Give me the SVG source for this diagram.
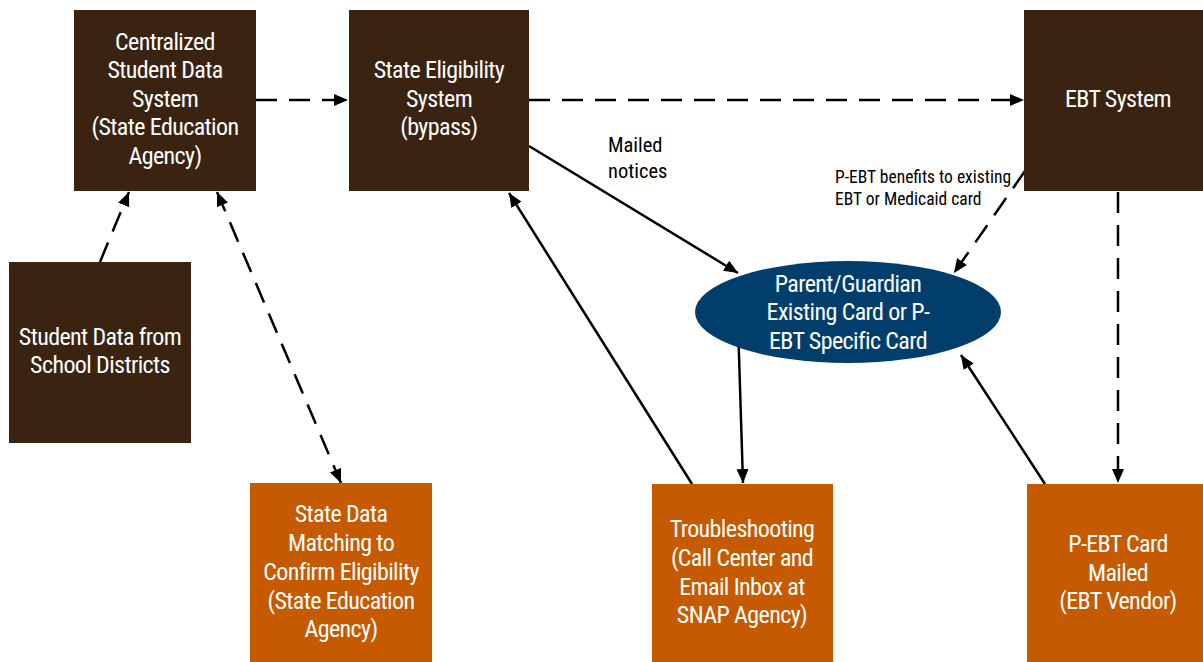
<svg xmlns="http://www.w3.org/2000/svg" width="1203" height="662" viewBox="0 0 1203 662">
<style>
.dark{fill:#3A2311}
.orange{fill:#C55A00}
.navy{fill:#023E6B}
.t{font-family:"Liberation Sans Narrow","Roboto Condensed","Liberation Sans",sans-serif;font-size:24px;letter-spacing:-0.6px;fill:#FFFFFF;text-anchor:middle}
.lbl{font-family:"Liberation Sans Narrow","Roboto Condensed","Liberation Sans",sans-serif;fill:#000000}
.c{fill:none;stroke:#000000;stroke-width:2.5}
.d{stroke-dasharray:21 12}
</style>
<defs>
<marker id="ah" markerUnits="userSpaceOnUse" viewBox="0 0 14 12" markerWidth="14" markerHeight="12" refX="14" refY="6" orient="auto-start-reverse">
<path d="M0,0 L14,6 L0,12 z" fill="#000000"/>
</marker>
</defs>
<rect width="1203" height="662" fill="#FFFFFF"/>
<g id="connectors">
<line class="c d" x1="256" y1="100" x2="348" y2="100" marker-end="url(#ah)"/>
<line class="c d" x1="529" y1="100" x2="1024" y2="100" marker-end="url(#ah)"/>
<line class="c d" x1="100" y1="262" x2="129" y2="192" marker-end="url(#ah)"/>
<line class="c d" x1="217" y1="192" x2="341" y2="483" marker-start="url(#ah)" marker-end="url(#ah)"/>
<line class="c" x1="529" y1="146" x2="738" y2="273" marker-end="url(#ah)"/>
<line class="c" x1="692" y1="484" x2="509" y2="193" marker-end="url(#ah)"/>
<line class="c" x1="738" y1="323" x2="743" y2="483" marker-end="url(#ah)"/>
<line class="c d" x1="1025" y1="171" x2="954" y2="273" marker-end="url(#ah)"/>
<line class="c" x1="1045" y1="484" x2="961" y2="355" marker-end="url(#ah)"/>
<line class="c d" x1="1118" y1="192" x2="1118" y2="483" marker-end="url(#ah)"/>
<text class="lbl" font-size="20.5" x="608" y="152">Mailed</text>
<text class="lbl" font-size="20.5" x="608" y="178">notices</text>
<text class="lbl" font-size="17.5" x="835" y="183">P-EBT benefits to existing</text>
<text class="lbl" font-size="17.5" x="835" y="205">EBT or Medicaid card</text>
</g>
<g id="centralized">
<rect class="dark" x="74" y="10" width="182" height="181"/>
<text class="t" x="165" y="50">Centralized</text>
<text class="t" x="165" y="78">Student Data</text>
<text class="t" x="165" y="107">System</text>
<text class="t" x="165" y="135">(State Education</text>
<text class="t" x="165" y="164">Agency)</text>
</g>
<g id="state-eligibility">
<rect class="dark" x="349" y="10" width="180" height="181"/>
<text class="t" x="439" y="78">State Eligibility</text>
<text class="t" x="439" y="107">System</text>
<text class="t" x="439" y="135">(bypass)</text>
</g>
<g id="ebt-system">
<rect class="dark" x="1024" y="10" width="179" height="181"/>
<text class="t" x="1118" y="107">EBT System</text>
</g>
<g id="student-data">
<rect class="dark" x="9" y="262" width="182" height="181"/>
<text class="t" x="100" y="345">Student Data from</text>
<text class="t" x="100" y="373">School Districts</text>
</g>
<g id="parent-guardian">
<ellipse class="navy" cx="848" cy="312" rx="153" ry="51"/>
<text class="t" x="848" y="292">Parent/Guardian</text>
<text class="t" x="848" y="320">Existing Card or P-</text>
<text class="t" x="848" y="349">EBT Specific Card</text>
</g>
<g id="state-data-matching">
<rect class="orange" x="250" y="483" width="182" height="179"/>
<text class="t" x="341" y="522">State Data</text>
<text class="t" x="341" y="551">Matching to</text>
<text class="t" x="341" y="580">Confirm Eligibility</text>
<text class="t" x="341" y="609">(State Education</text>
<text class="t" x="341" y="637">Agency)</text>
</g>
<g id="troubleshooting">
<rect class="orange" x="652" y="484" width="181" height="178"/>
<text class="t" x="742" y="537">Troubleshooting</text>
<text class="t" x="742" y="566">(Call Center and</text>
<text class="t" x="742" y="595">Email Inbox at</text>
<text class="t" x="742" y="623">SNAP Agency)</text>
</g>
<g id="pebt-card">
<rect class="orange" x="1027" y="484" width="176" height="178"/>
<text class="t" x="1118" y="552">P-EBT Card</text>
<text class="t" x="1118" y="581">Mailed</text>
<text class="t" x="1118" y="609">(EBT Vendor)</text>
</g>
</svg>
